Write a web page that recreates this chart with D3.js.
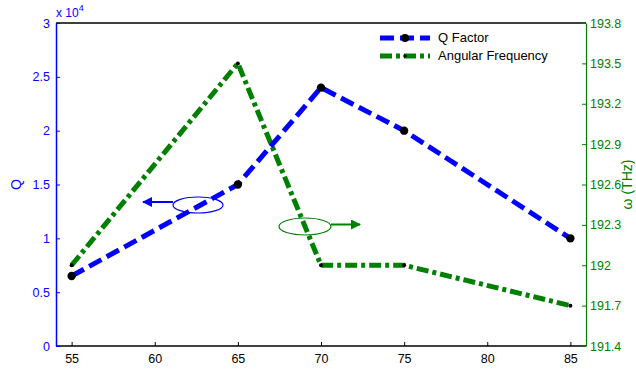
<!DOCTYPE html>
<html>
<head>
<meta charset="utf-8">
<script src="https://cdn.jsdelivr.net/npm/d3@7"></script>
<style>
  body { margin: 0; background: #fff; }
  svg { display: block; font-family: "Liberation Sans", Arial, sans-serif; }
</style>
</head>
<body>
<div class="wrapper"></div>
<script>
const width = 636;
const height = 371;

// data
const xValues = [55, 65, 70, 75, 85];
const qFactor = [6500, 15000, 24000, 20000, 10000];
const angularFreq = [192.0, 193.5, 192.0, 192.0, 191.7];
const xTicks = [55, 60, 65, 70, 75, 80, 85];
const qTicks = [0, 5000, 10000, 15000, 20000, 25000, 30000];
const wTicks = [191.4, 191.7, 192, 192.3, 192.6, 192.9, 193.2, 193.5, 193.8];

const blue = "#0000ff";
const green = "#008000";
const plotLeft = 56, plotRight = 586, plotTop = 23, plotBottom = 346;

const x = d3.scaleLinear().domain([54, 86]).range([plotLeft - 1, plotRight + 1]);
const yQ = d3.scaleLinear().domain([0, 30000]).range([plotBottom, plotTop]);
const yW = d3.scaleLinear().domain([191.4, 193.8]).range([plotBottom, plotTop]);

const svg = d3.select(".wrapper").append("svg")
  .attr("width", width)
  .attr("height", height);

// top border
svg.append("line")
  .attr("x1", plotLeft).attr("x2", plotRight)
  .attr("y1", plotTop).attr("y2", plotTop)
  .attr("stroke", "#000").attr("stroke-width", 1.5);

// x axis (ticks pointing inward)
const xAxis = svg.append("g")
  .attr("transform", `translate(0,${plotBottom})`)
  .call(d3.axisBottom(x).tickValues(xTicks).tickSizeInner(-4).tickSizeOuter(0).tickPadding(8));
xAxis.select(".domain").attr("stroke", "#000").attr("stroke-width", 1.5)
  .attr("d", `M${plotLeft},0H${plotRight}`);
xAxis.selectAll(".tick line").attr("stroke", "#000");
xAxis.selectAll("text").attr("font-size", 12.5).attr("fill", "#000");

// left axis
const qAxis = svg.append("g")
  .attr("transform", `translate(${plotLeft},0)`)
  .call(d3.axisLeft(yQ).tickValues(qTicks).tickSizeInner(-4).tickSizeOuter(0).tickPadding(6)
    .tickFormat(d => d / 10000));
qAxis.select(".domain").attr("stroke", blue).attr("stroke-width", 1.5);
qAxis.selectAll(".tick line").attr("stroke", blue);
qAxis.selectAll("text").attr("font-size", 12.5).attr("fill", blue);

svg.append("text")
  .attr("x", plotLeft).attr("y", 17)
  .attr("font-size", 12).attr("fill", blue)
  .text("x 10")
  .append("tspan").attr("dy", -6).attr("font-size", 9).text("4");

svg.append("text")
  .attr("transform", `translate(21,${(plotTop + plotBottom) / 2}) rotate(-90)`)
  .attr("text-anchor", "middle")
  .attr("font-size", 14).attr("fill", blue)
  .text("Q");

// right axis
const wAxis = svg.append("g")
  .attr("transform", `translate(${plotRight},0)`)
  .call(d3.axisRight(yW).tickValues(wTicks).tickSizeInner(-4).tickSizeOuter(0).tickPadding(4)
    .tickFormat(d3.format("")));
wAxis.select(".domain").attr("stroke", green).attr("stroke-width", 1.2);
wAxis.selectAll(".tick line").attr("stroke", green);
wAxis.selectAll("text").attr("font-size", 12.5).attr("fill", green);

svg.append("text")
  .attr("transform", `translate(632,${(plotTop + plotBottom) / 2}) rotate(-90)`)
  .attr("text-anchor", "middle")
  .attr("font-size", 14).attr("fill", green)
  .text("ω (THz)");

// series
const qLine = d3.line().x((d, i) => x(xValues[i])).y(d => yQ(d));
const wLine = d3.line().x((d, i) => x(xValues[i])).y(d => yW(d));

svg.append("path")
  .datum(angularFreq)
  .attr("d", wLine)
  .attr("fill", "none")
  .attr("stroke", green)
  .attr("stroke-width", 5)
  .attr("stroke-dasharray", "12 4 4 4");

svg.append("path")
  .datum(qFactor)
  .attr("d", qLine)
  .attr("fill", "none")
  .attr("stroke", blue)
  .attr("stroke-width", 5)
  .attr("stroke-dasharray", "14 6");

svg.append("g").selectAll("circle")
  .data(angularFreq)
  .join("circle")
  .attr("cx", (d, i) => x(xValues[i]))
  .attr("cy", d => yW(d))
  .attr("r", 2)
  .attr("fill", "#000");

svg.append("g").selectAll("path")
  .data(qFactor)
  .join("path")
  .attr("transform", (d, i) => `translate(${x(xValues[i])},${yQ(d)})`)
  .attr("d", d3.symbol(d3.symbolCircle, 55))
  .attr("fill", "#000");

// annotation ellipses and arrows
const defs = svg.append("defs");
[["arrowBlue", blue], ["arrowGreen", green]].forEach(([id, c]) => {
  defs.append("marker")
    .attr("id", id)
    .attr("viewBox", "0 0 10 10")
    .attr("refX", 9).attr("refY", 5)
    .attr("markerWidth", 5).attr("markerHeight", 5)
    .attr("orient", "auto")
    .append("path").attr("d", "M0,0L10,5L0,10z").attr("fill", c);
});

svg.append("ellipse")
  .attr("cx", 198).attr("cy", 205).attr("rx", 25).attr("ry", 8)
  .attr("fill", "none").attr("stroke", blue).attr("stroke-width", 1.2);
svg.append("line")
  .attr("x1", 173).attr("y1", 202).attr("x2", 143).attr("y2", 202)
  .attr("stroke", blue).attr("stroke-width", 2)
  .attr("marker-end", "url(#arrowBlue)");

svg.append("ellipse")
  .attr("cx", 305).attr("cy", 226.5).attr("rx", 26).attr("ry", 8.5)
  .attr("fill", "none").attr("stroke", green).attr("stroke-width", 1.2);
svg.append("line")
  .attr("x1", 331).attr("y1", 224.5).attr("x2", 360).attr("y2", 224.5)
  .attr("stroke", green).attr("stroke-width", 2)
  .attr("marker-end", "url(#arrowGreen)");

// legend
const legend = svg.append("g");
const legendItems = [
  { name: "Q Factor", color: blue, dash: "14 6", marker: 4 },
  { name: "Angular Frequency", color: green, dash: "12 4 4 4", marker: 1.8 }
];
legendItems.forEach((d, i) => {
  const y = 38 + i * 18;
  legend.append("line")
    .attr("x1", 380).attr("x2", 430).attr("y1", y).attr("y2", y)
    .attr("stroke", d.color).attr("stroke-width", 5)
    .attr("stroke-dasharray", d.dash);
  legend.append("circle")
    .attr("cx", 405).attr("cy", y).attr("r", d.marker).attr("fill", "#000");
  legend.append("text")
    .attr("x", 438).attr("y", y + 4)
    .attr("font-size", 13).attr("fill", "#000")
    .text(d.name);
});
</script>
</body>
</html>
